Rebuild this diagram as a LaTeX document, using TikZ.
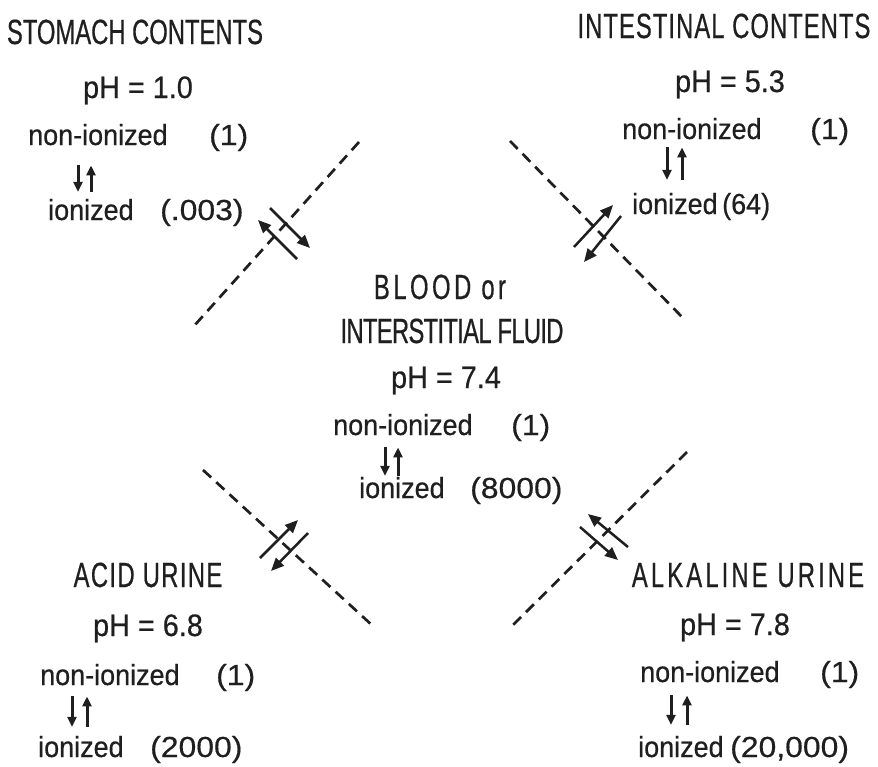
\documentclass[tikz,border=0pt]{standalone}
\usepackage{fontspec}
\setmainfont{Liberation Sans}[FakeStretch=0.93, FakeBold=0.5]
\newfontfamily\capsfont{Liberation Sans}[FakeStretch=0.68, FakeBold=0.5]
\newfontfamily\numfont{Liberation Sans}[FakeStretch=1.1, FakeBold=0.5]
\usetikzlibrary{arrows.meta}
\definecolor{ink}{HTML}{1F1F1F}

\begin{document}
\begin{tikzpicture}[x=1pt,y=-1pt]
    \tikzset{head/.style={anchor=base, inner sep=0pt, text=ink,
        font=\fontsize{35}{38}\capsfont\addfontfeature{LetterSpace=#1}},
        head/.default=0}
    \tikzstyle{phline} = [anchor=base, inner sep=0pt, text=ink,
        font=\fontsize{31}{34}\selectfont]
    \tikzstyle{txt} = [anchor=base west, inner sep=0pt, text=ink,
        font=\fontsize{29}{32}\selectfont]
    \tikzstyle{count} = [anchor=base west, inner sep=0pt, text=ink,
        font=\fontsize{29}{32}\numfont]
    \tikzstyle{membrane} = [draw=ink, line width=2.7pt, dash pattern=on 11pt off 7pt]
    \tikzstyle{passarrow} = [draw=ink, line width=2.5pt,
        -{Triangle[length=13pt,width=11pt]}]
    \tikzstyle{ioarrow} = [draw=ink, line width=3pt,
        -{Triangle[length=10pt,width=9pt]}]

    \useasboundingbox (0,0) rectangle (878,766);

    % stomach
    \node (s0) [head] at (135,44) {STOMACH CONTENTS};
    \node (s1) [phline] at (138,98) {pH = 1.0};
    \node (s2) [txt] at (28,145) {non-ionized};
    \node (s3) [count] at (209,145) {(1)};
    \node (s4) [txt] at (48,220) {ionized};
    \node (s5) [count] at (160,220) {(.003)};

    % intestine
    \node (i0) [head=3] at (724,38) {INTESTINAL CONTENTS};
    \node (i1) [phline] at (730,92) {pH = 5.3};
    \node (i2) [txt] at (622,139) {non-ionized};
    \node (i3) [count] at (810,139) {(1)};
    \node (i4) [txt] at (632,214) {ionized};
    \node (i5) [txt] at (722,214) {(64)};

    % blood
    \node (b0) [head=10] at (440,299) {BLOOD or};
    \node (b1) [head=-2] at (452,343) {INTERSTITIAL FLUID};
    \node (b2) [phline] at (446,388) {pH = 7.4};
    \node (b3) [txt] at (333,435) {non-ionized};
    \node (b4) [count] at (511,435) {(1)};
    \node (b5) [txt] at (359,498) {ionized};
    \node (b6) [count] at (470,498) {(8000)};

    % acid urine
    \node (a0) [head=4] at (148,587) {ACID URINE};
    \node (a1) [phline] at (148,636) {pH = 6.8};
    \node (a2) [txt] at (40,685) {non-ionized};
    \node (a3) [count] at (216,685) {(1)};
    \node (a4) [txt] at (38,757) {ionized};
    \node (a5) [count] at (150,757) {(2000)};

    % alkaline urine
    \node (k0) [head=9] at (748,587) {ALKALINE URINE};
    \node (k1) [phline] at (735,635) {pH = 7.8};
    \node (k2) [txt] at (640,682) {non-ionized};
    \node (k3) [count] at (820,682) {(1)};
    \node (k4) [txt] at (638,757) {ionized};
    \node (k5) [count] at (730,757) {(20,000)};

    % ionization equilibria
    \draw [ioarrow, shorten <=20pt, shorten >=7pt]
        ([xshift=50pt]s2.south west) -- ([xshift=50pt]s2.south west |- s4.north);
    \draw [ioarrow, shorten <=7pt, shorten >=20pt]
        ([xshift=63pt]s2.south west |- s4.north) -- ([xshift=63pt]s2.south west);
    \draw [ioarrow, shorten <=8pt, shorten >=13pt]
        ([xshift=45pt]i2.south west) -- ([xshift=45pt]i2.south west |- i4.north);
    \draw [ioarrow, shorten <=13pt, shorten >=8pt]
        ([xshift=60pt]i2.south west |- i4.north) -- ([xshift=60pt]i2.south west);
    \draw [ioarrow, shorten <=12pt, shorten >=1pt]
        ([xshift=52pt]b3.south west) -- ([xshift=52pt]b3.south west |- b5.north);
    \draw [ioarrow, shorten <=1pt, shorten >=12pt]
        ([xshift=65pt]b3.south west |- b5.north) -- ([xshift=65pt]b3.south west);
    \draw [ioarrow, shorten <=11pt, shorten >=9pt]
        ([xshift=32pt]a2.south west) -- ([xshift=32pt]a2.south west |- a4.north);
    \draw [ioarrow, shorten <=9pt, shorten >=11pt]
        ([xshift=47pt]a2.south west |- a4.north) -- ([xshift=47pt]a2.south west);
    \draw [ioarrow, shorten <=13pt, shorten >=11pt]
        ([xshift=31pt]k2.south west) -- ([xshift=31pt]k2.south west |- k4.north);
    \draw [ioarrow, shorten <=11pt, shorten >=13pt]
        ([xshift=47pt]k2.south west |- k4.north) -- ([xshift=47pt]k2.south west);

    % membranes
    \coordinate (m1a) at (359,142); \coordinate (m1b) at (194,326);
    \coordinate (m2a) at (510,141); \coordinate (m2b) at (683,318);
    \coordinate (m3a) at (203,470); \coordinate (m3b) at (374,627);
    \coordinate (m4a) at (687,452); \coordinate (m4b) at (511,627);
    \draw [membrane] (m1a) -- (m1b);
    \draw [membrane] (m2a) -- (m2b);
    \draw [membrane] (m3a) -- (m3b);
    \draw [membrane] (m4a) -- (m4b);

    % passage through membranes
    \coordinate (p1a) at (270,208); \coordinate (p1b) at (310,248);
    \coordinate (p1c) at (297,259); \coordinate (p1d) at (258,220);
    \coordinate (p2a) at (574,247); \coordinate (p2b) at (613,205);
    \coordinate (p2c) at (621,216); \coordinate (p2d) at (584,262);
    \coordinate (p3a) at (260,558); \coordinate (p3b) at (298,520);
    \coordinate (p3c) at (308,533); \coordinate (p3d) at (271,571);
    \coordinate (p4a) at (628,547); \coordinate (p4b) at (588,514);
    \coordinate (p4c) at (580,527); \coordinate (p4d) at (618,560);
    \draw [passarrow] (p1a) -- (p1b);
    \draw [passarrow] (p1c) -- (p1d);
    \draw [passarrow] (p2a) -- (p2b);
    \draw [passarrow] (p2c) -- (p2d);
    \draw [passarrow] (p3a) -- (p3b);
    \draw [passarrow] (p3c) -- (p3d);
    \draw [passarrow] (p4a) -- (p4b);
    \draw [passarrow] (p4c) -- (p4d);
\end{tikzpicture}
\end{document}
